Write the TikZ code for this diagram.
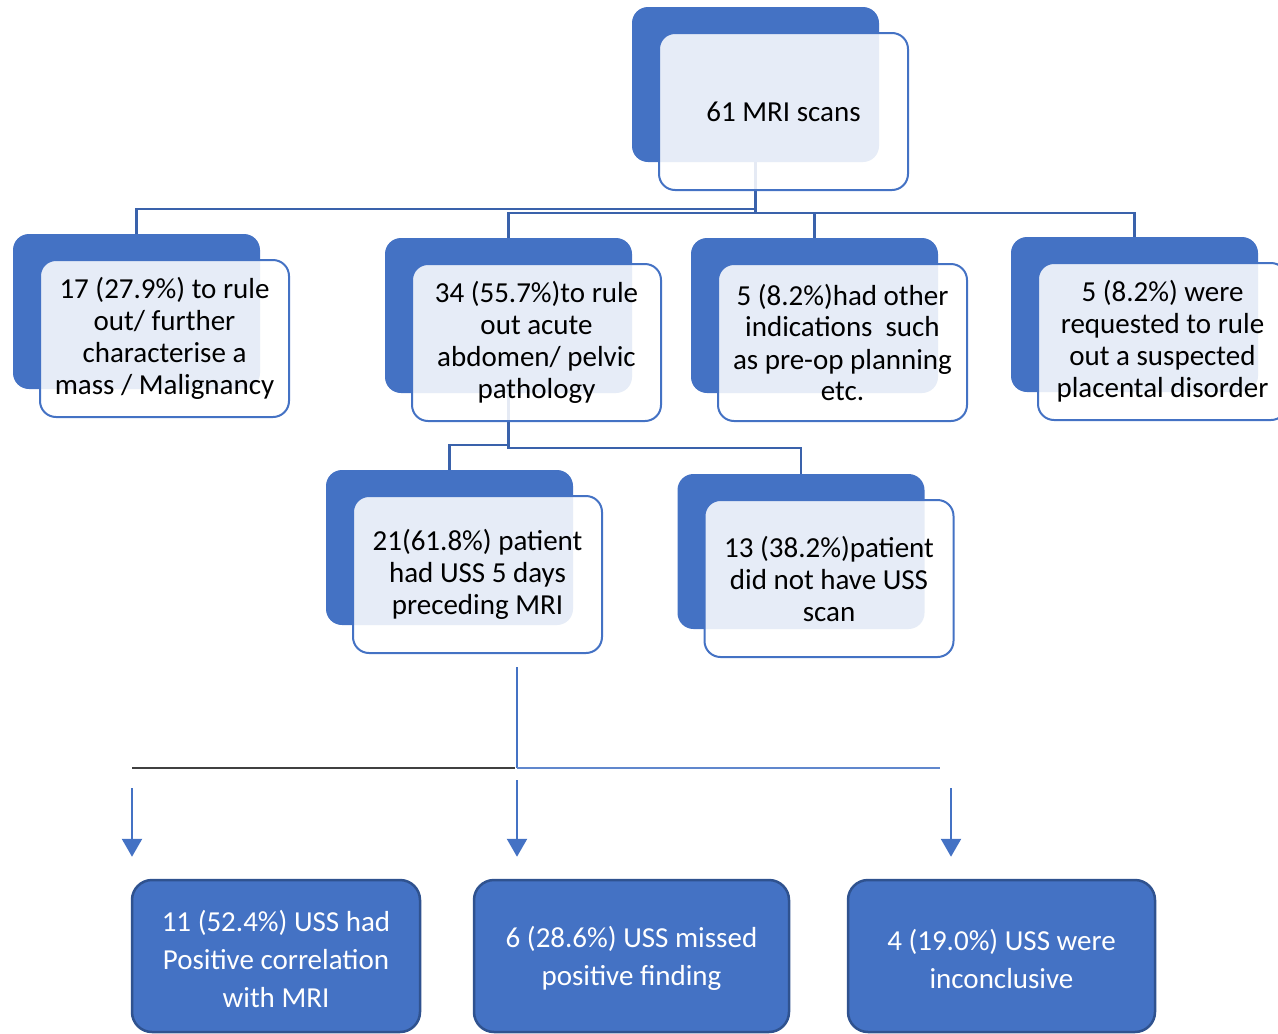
\documentclass[tikz,border=0pt]{standalone}
\usepackage{fontspec}
\setmainfont{Carlito}
\usetikzlibrary{positioning,arrows.meta}
\definecolor{accent}{HTML}{4472C4}
\definecolor{accentdark}{HTML}{2F528F}
\definecolor{linkblue}{HTML}{3A62AB}
\definecolor{ink}{HTML}{000000}
\definecolor{rule}{HTML}{404040}
\pgfdeclarelayer{background}
\pgfsetlayers{background,main}
\tikzset{
  backbox/.style={draw=none, fill=accent, rounded corners=16pt,
    minimum width=247pt, minimum height=155pt, inner sep=0pt},
  frontbox/.style={draw=accent, line width=2pt, rounded corners=16pt, fill=white,
    fill opacity=0.87, text opacity=1, minimum width=249pt, minimum height=157pt,
    align=center, inner sep=4pt, text=ink, font=\fontsize{29pt}{32pt}\selectfont},
  outbox/.style={draw=accentdark, line width=2.5pt, rounded corners=20pt, fill=accent,
    minimum height=152pt, align=center, inner sep=4pt, text=white,
    font=\fontsize{29pt}{38pt}\selectfont},
  conn/.style={draw=linkblue, line width=2.5pt},
  fork/.style={draw=accent, line width=1.2pt},
  arr/.style={-{Triangle[width=20pt,length=18pt]}, line width=2.5pt, draw=accent},
}
% shadow block with its framed box on top
\newcommand{\mribox}[4]{%
  \node[backbox] (#1-b) at (#2,#3) {};
  \node[frontbox] (#1) at ([shift={(28,27)}]#1-b.center) {#4};}

\begin{document}
\begin{tikzpicture}[x=1pt,y=-1pt]
  \useasboundingbox (0,0) rectangle (1278,1034);

  \mribox{total}{755.5}{84.5}{61 MRI scans}
  \mribox{mass}{136.5}{311.5}{17 (27.9\%) to rule\\out/ further\\characterise a\\mass / Malignancy}
  \mribox{acute}{508.5}{315.5}{34 (55.7\%)to rule\\out acute\\abdomen/ pelvic\\pathology}
  \mribox{other}{814.5}{315.5}{5 (8.2\%)had other\\indications\ \ such\\as pre-op planning\\etc.}
  \mribox{placenta}{1134.5}{314.5}{5 (8.2\%) were\\requested to rule\\out a suspected\\placental disorder}
  \mribox{uss}{449.5}{547.5}{21(61.8\%) patient\\had USS 5 days\\preceding MRI}
  \mribox{nouss}{801}{551.5}{13 (38.2\%)patient\\did not have USS\\scan}

  % outcome boxes
  \node[outbox, minimum width=288pt] (pos) at (276,956) {\strut 11 (52.4\%) USS had\\Positive correlation\\with MRI};
  \node[outbox, minimum width=315pt] (miss) at (631.5,956) {\strut 6 (28.6\%) USS missed\\positive finding};
  \node[outbox, minimum width=307pt] (inc) at (1001.5,956) {\strut 4 (19.0\%) USS were\\inconclusive};

  \coordinate (fork-top) at (517,667);
  \coordinate (fork) at (517,768);
  \coordinate (fork-l) at (132,768);
  \coordinate (fork-r) at (940,768);
  \coordinate (a1) at (132,788);
  \coordinate (a2) at (517,780);
  \coordinate (a3) at (951,788);

  \begin{pgfonlayer}{background}
    \draw[conn] (total-b.south) -- ++(0,51);
    \draw[conn] (mass-b.north) -- ++(0,-25) -| (total-b.south);
    \draw[conn] (acute-b.north) -- ++(0,-25) -| (placenta-b.north);
    \draw[conn] (other-b.north) -- ++(0,-25);
    \draw[conn] (acute-b.south) -- ++(0,55) -| (nouss-b.north);
    \draw[conn] (uss-b.north) -- ++(0,-25) -| (acute-b.south);
  \end{pgfonlayer}

  \draw[fork] (fork-top) -- (fork);
  \draw[draw=rule, line width=2pt] (fork-l) -- ([xshift=-2pt]fork);
  \draw[fork, draw=accent!85] (fork) -- (fork-r);
  \draw[arr] (a1) -- ([yshift=22pt]a1 |- pos.north);
  \draw[arr] (a2) -- ([yshift=22pt]a2 |- miss.north);
  \draw[arr] (a3) -- ([yshift=22pt]a3 |- inc.north);
\end{tikzpicture}
\end{document}
